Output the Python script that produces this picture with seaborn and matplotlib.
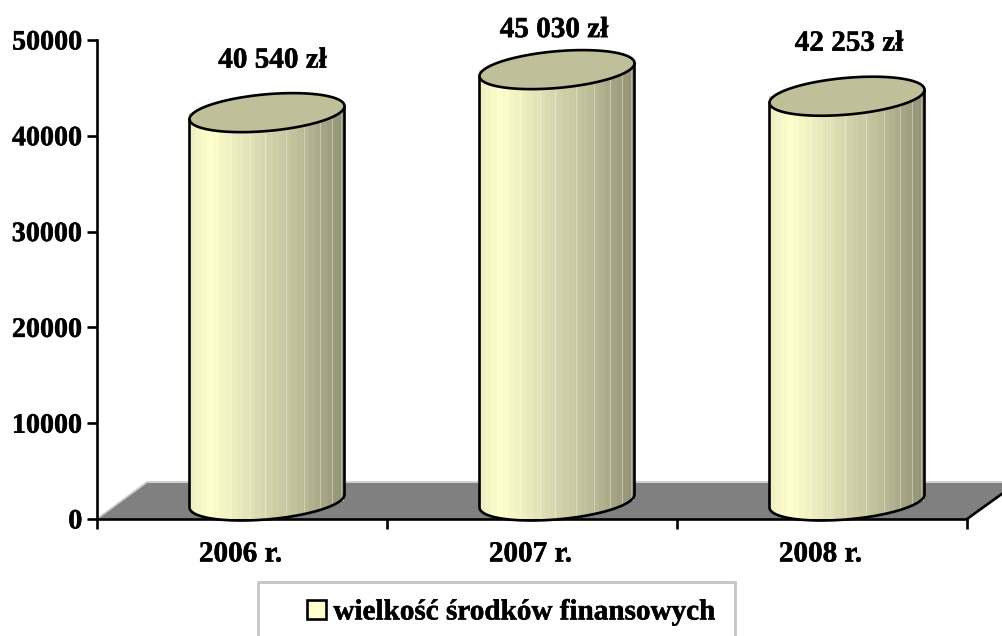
import numpy as np
import pandas as pd
import matplotlib
matplotlib.use("Agg")
import matplotlib.pyplot as plt
import matplotlib.patheffects as pe
import seaborn as sns
from matplotlib.colors import LinearSegmentedColormap
from matplotlib.patches import Patch, Polygon, Rectangle
from matplotlib.path import Path
from matplotlib.transforms import offset_copy

years = ["2006 r.", "2007 r.", "2008 r."]
values = [40540, 45030, 42253]
value_labels = ["40 540 zł", "45 030 zł", "42 253 zł"]
label_offsets_px = [(30.5, 70.5), (22, 58), (27, 71)]
legend_label = "wielkość środków finansowych"
yticks = [0, 10000, 20000, 30000, 40000, 50000]
seam_fracs = [0.18, 0.27, 0.39, 0.49, 0.62, 0.74, 0.84, 0.92, 0.98]

W, H = 1003, 636
sns.set_theme(style="white")
plt.rcParams["font.family"] = ["Liberation Serif", "DejaVu Serif"]
plt.rcParams["font.weight"] = "bold"
FS = 21
LW = 1.9
stroke = [pe.withStroke(linewidth=0.35, foreground="black")]

fig = plt.figure(figsize=(W / 100, H / 100), dpi=100)
ax = fig.add_axes([97 / W, 1 - 519 / H, 870 / W, 479 / H])

df = pd.DataFrame({"year": years, "value": values})
sns.barplot(data=df, x="year", y="value", width=155 / 290, color="#D8D8AC",
            saturation=1, ax=ax, zorder=3)
ax.set_xlim(-0.5, 2.5)
ax.set_ylim(0, 50000)
ax.set_xlabel("")
ax.set_ylabel("")

ux = 3 / 870       # data units per pixel
uy = 50000 / 479
depth_x, depth_y = 25 * ux, 18 * uy

# floor
ax.add_patch(Polygon([(-0.5, 0), (-0.5 + 2 * depth_x, 2 * depth_y),
                      (2.5 + 2 * depth_x, 2 * depth_y), (2.5, 0)],
                     closed=True, fc="#808080", ec="none", clip_on=False, zorder=1))
ax.plot([-0.5, -0.5 + 2 * depth_x, 2.5 + 2 * depth_x], [0, 2 * depth_y + uy, 2 * depth_y + uy],
        color="#C8C8C8", lw=1.2, clip_on=False, zorder=1.1)
ax.plot([2.5, 2.5 + 2 * depth_x], [0, 2 * depth_y], color="black", lw=LW,
        clip_on=False, zorder=1.2)

cmap = LinearSegmentedColormap.from_list(
    "cyl", [(0, "#F0F0C4"), (0.12, "#FFFFCC"), (0.45, "#DADAB0"),
            (0.75, "#BABA96"), (1, "#929276")])
B_PX, S_PX = 18.4, 6.5
t = np.linspace(0, np.pi, 80)

for bar in ax.patches[:3]:
    x0, w, h = bar.get_x(), bar.get_width(), bar.get_height()
    bar.set_x(x0 + depth_x)
    bar.set_y(depth_y)
    bar.set_linewidth(0)
    cx = x0 + depth_x + w / 2
    a = w / 2
    xs = cx + a * np.cos(t)
    lower = -B_PX * uy * np.sin(t) + S_PX * uy * np.cos(t)
    upper = B_PX * uy * np.sin(t) + S_PX * uy * np.cos(t)
    bot_y = depth_y + lower
    top_low = h + depth_y + lower
    top_up = h + depth_y + upper

    body = np.column_stack([np.r_[xs, xs[::-1]], np.r_[bot_y, top_up[::-1]]])
    path = Path(np.vstack([body, body[0]]), closed=True)
    n = 26
    edges = np.linspace(cx - a, cx + a, n + 1)
    mesh = ax.pcolormesh(edges, [0, h + 2 * depth_y + 2 * B_PX * uy],
                         (np.arange(n) / (n - 1))[None, :], cmap=cmap, vmin=0, vmax=1,
                         zorder=3.2, shading="flat")
    mesh.set_clip_path(path, ax.transData)
    for frac in seam_fracs:
        seam = ax.plot([cx - a + 2 * a * frac] * 2, [0, h + depth_y], color="white",
                       alpha=0.35, lw=0.8, zorder=3.3)[0]
        seam.set_clip_path(path, ax.transData)
    outline_x = np.r_[xs[0], xs, xs[-1]]
    outline_y = np.r_[top_up[0], bot_y, top_up[-1]]
    ax.plot(outline_x, outline_y, color="black", lw=LW, clip_on=False, zorder=3.5)
    lid = np.column_stack([np.r_[xs, xs[::-1]], np.r_[top_low, top_up[::-1]]])
    ax.add_patch(Polygon(lid, closed=True, fc="#BFBF99", ec="black", lw=LW,
                         clip_on=False, zorder=3.6))

for i, (v, lab, (ox, oy)) in enumerate(zip(values, value_labels, label_offsets_px)):
    ax.annotate(lab, (i, v), xytext=(ox * 0.72, oy * 0.72), textcoords="offset points",
                ha="center", va="center", fontsize=FS, fontweight="bold",
                color="black", annotation_clip=False, zorder=5, path_effects=stroke)

# axes
for s in ("top", "right"):
    ax.spines[s].set_visible(False)
for s in ("left", "bottom"):
    ax.spines[s].set_linewidth(LW)
    ax.spines[s].set_color("black")
    ax.spines[s].set_zorder(2.5)
ax.set_yticks(yticks)
ax.set_yticklabels([str(v) for v in yticks], fontsize=20.2, fontweight="bold", color="black",
                   path_effects=stroke)
ax.tick_params(axis="y", direction="out", length=7.5, width=LW, pad=3, color="black", left=True)
ax.set_xticks([-0.5, 0.5, 1.5, 2.5])
ax.set_xticklabels([])
ax.tick_params(axis="x", direction="out", length=7.5, width=LW, color="black", bottom=True)
ax.set_xticks(range(len(years)), labels=years, minor=True)
ax.tick_params(axis="x", which="minor", length=0, labelsize=FS, labelcolor="black")
shift = offset_copy(ax.get_xaxis_transform(), fig=fig, x=-1.5, y=-35, units="dots")
for lbl in ax.get_xticklabels(minor=True):
    lbl.set_fontweight("bold")
    lbl.set_path_effects(stroke)
    lbl.set_transform(shift)
    lbl.set_verticalalignment("center")

# legend
fig.add_artist(Rectangle((258 / W, 0 - 10 / H), 477 / W, 64 / H,
                         transform=fig.transFigure, fc="white", ec="#C4C4C4", lw=2))
handle = Patch(fc="#FFFFCC", ec="black", lw=LW, label=legend_label)
leg = fig.legend(handles=[handle], loc="center", bbox_to_anchor=(511 / W, 1 - 612 / H),
                 bbox_transform=fig.transFigure, frameon=False, fontsize=FS,
                 handlelength=0.65, handleheight=0.65, handletextpad=0.25,
                 labelcolor="black")
for txt in leg.get_texts():
    txt.set_path_effects(stroke)

fig.savefig("out.png", dpi=100, facecolor="white")
